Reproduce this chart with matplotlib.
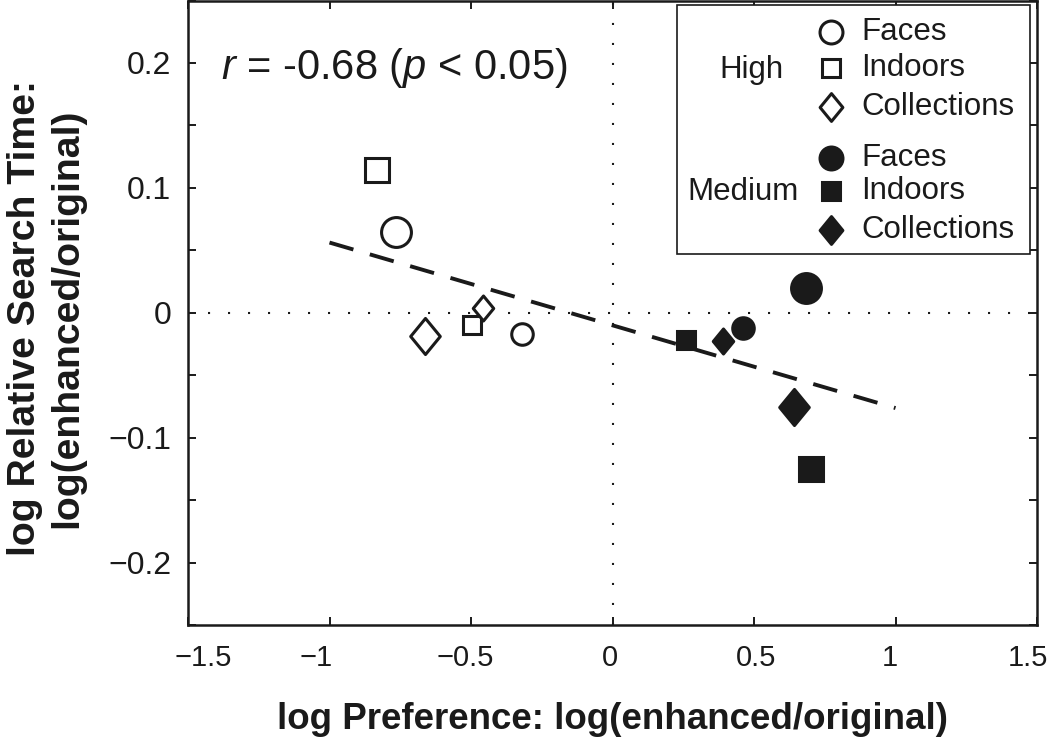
import matplotlib
matplotlib.use("Agg")
import matplotlib.pyplot as plt
from matplotlib.path import Path
from matplotlib.markers import MarkerStyle
from matplotlib.ticker import FixedLocator, FuncFormatter, NullFormatter
from matplotlib.patches import Rectangle

# ---------------- data ----------------
levels = ["High", "Medium"]
categories = ["Faces", "Indoors", "Collections"]

# log preference (x) and log relative search time (y); large and small points
high_pref_large = [-0.764, -0.833, -0.662]
high_rst_large = [0.065, 0.114, -0.019]
high_pref_small = [-0.319, -0.497, -0.456]
high_rst_small = [-0.017, -0.0096, 0.0037]

medium_pref_large = [0.684, 0.700, 0.643]
medium_rst_large = [0.0197, -0.125, -0.0755]
medium_pref_small = [0.460, 0.258, 0.390]
medium_rst_small = [-0.0123, -0.022, -0.023]

fit_x = [-1.0, 1.0]
fit_y = [0.0562, -0.0763]

r_value = "-0.68"
p_text = "< 0.05"
xticks = [-1.5, -1, -0.5, 0, 0.5, 1, 1.5]
yticks_major = [-0.2, -0.1, 0, 0.1, 0.2]
yticks_minor = [-0.25, -0.15, -0.05, 0.05, 0.15, 0.25]

# ---------------- styles ----------------
plt.rcParams["font.family"] = ["Liberation Sans", "DejaVu Sans"]
plt.rcParams["mathtext.fontset"] = "custom"
plt.rcParams["mathtext.it"] = "Liberation Sans:italic"
plt.rcParams["mathtext.rm"] = "Liberation Sans"

INK = "#1a1a1a"
diamond_path = Path([(0, 1), (0.82, 0), (0, -1), (-0.82, 0), (0, 1)], closed=True)
markers = {
    "Faces": MarkerStyle("o"),
    "Indoors": MarkerStyle("s", joinstyle="miter"),
    "Collections": MarkerStyle(diamond_path, joinstyle="miter"),
}
size_large = {"Faces": 21.5, "Indoors": 17.6, "Collections": 26.0}
size_small = {"Faces": 15.5, "Indoors": 12.6, "Collections": 18.0}
legend_size = {"Faces": 16.5, "Indoors": 13.2, "Collections": 20.0}
MEW = 2.2
# small horizontal nudges (points) of the x tick labels, as in the reference
xlabel_nudge = [10.8, -9.4, -4.3, -2.2, 1.4, -4.3, -6.5]

W, H = 1050, 743
fig = plt.figure(figsize=(W / 100, H / 100), dpi=100)
ax = fig.add_axes([188 / W, (H - 625) / H, (1037 - 188) / W, (625 - 0.5) / H])

# reference lines
ax.axhline(0, color=INK, lw=1.5, ls=(0, (1, 8.6)), zorder=1)
ax.axvline(0, color=INK, lw=1.5, ls=(0, (1, 8.6)), zorder=1)

# fit line
ax.plot(fit_x, fit_y, color=INK, lw=2.8, ls=(0, (6.4, 4.4)), zorder=2)

data = {
    "High": (high_pref_large, high_rst_large, high_pref_small, high_rst_small),
    "Medium": (medium_pref_large, medium_rst_large, medium_pref_small, medium_rst_small),
}
for level in levels:
    xl, yl, xs, ys = data[level]
    face = "white" if level == "High" else INK
    for i, cat in enumerate(categories):
        for x, y, ms in ((xl[i], yl[i], size_large[cat]), (xs[i], ys[i], size_small[cat])):
            ax.plot([x], [y], linestyle="none", marker=markers[cat], ms=ms,
                    mfc=face, mec=INK, mew=MEW, zorder=3)

ax.set_xlim(-1.5, 1.5)
ax.set_ylim(-0.25, 0.25)


def fmt(v, pos=None):
    return ("%g" % v).replace("-", "\u2212")


ax.xaxis.set_major_locator(FixedLocator(xticks))
ax.xaxis.set_major_formatter(NullFormatter())
ax.yaxis.set_major_locator(FixedLocator(yticks_major))
ax.yaxis.set_minor_locator(FixedLocator(yticks_minor))
ax.yaxis.set_major_formatter(FuncFormatter(fmt))
ax.tick_params(which="both", direction="in", length=6, width=1.4, color=INK,
               top=True, right=True)
ax.tick_params(axis="y", labelsize=23, pad=12, colors=INK)
for sp in ax.spines.values():
    sp.set_linewidth(1.8)
    sp.set_color(INK)

for xv, dx in zip(xticks, xlabel_nudge):
    ax.annotate(fmt(xv), xy=(xv, 0), xycoords=("data", "axes fraction"),
                xytext=(dx, -13.5), textcoords="offset points",
                ha="center", va="top", fontsize=21, color=INK)

ax.set_xlabel("log Preference: log(enhanced/original)", fontsize=26.5,
              fontweight="bold", labelpad=52, color=INK)
fig.text(46 / W, 1 - 318 / H, "log Relative Search Time:\nlog(enhanced/original)",
         rotation=90, ha="center", va="center", multialignment="center",
         fontsize=28.3, fontweight="bold", color=INK, linespacing=1.2)

ax.text(-1.383, 0.187, r"$r$ = " + r_value + r" ($p$ " + p_text + ")", fontsize=30,
        ha="left", va="baseline", color=INK)

# ---------------- legend (drawn in axes fraction) ----------------
def axx(px):
    return (px - 188) / (1037 - 188)


def axy(py):
    return 1 - (py - 0.5) / (625 - 0.5)


ax.add_patch(Rectangle((axx(677), axy(254)), axx(1030) - axx(677), axy(5) - axy(254),
                       transform=ax.transAxes, fill=True, facecolor="white",
                       edgecolor=INK, lw=1.2, zorder=5))
row_y = {"High": [32, 68, 107], "Medium": [158, 191, 230]}
group_label = {"High": (751, 70), "Medium": (743, 192)}
for level in levels:
    face = "white" if level == "High" else INK
    gx, gy = group_label[level]
    ax.text(axx(gx), axy(gy), level, transform=ax.transAxes, ha="center", va="center",
            fontsize=22.5, color=INK, zorder=6)
    for cat, py in zip(categories, row_y[level]):
        ax.plot([axx(831)], [axy(py)], transform=ax.transAxes, linestyle="none",
                marker=markers[cat], ms=legend_size[cat], mfc=face, mec=INK, mew=MEW,
                zorder=6, clip_on=False)
        ax.text(axx(861), axy(py), cat, transform=ax.transAxes, ha="left", va="center",
                fontsize=22.5, color=INK, zorder=6)

fig.savefig("out.png", dpi=100)
